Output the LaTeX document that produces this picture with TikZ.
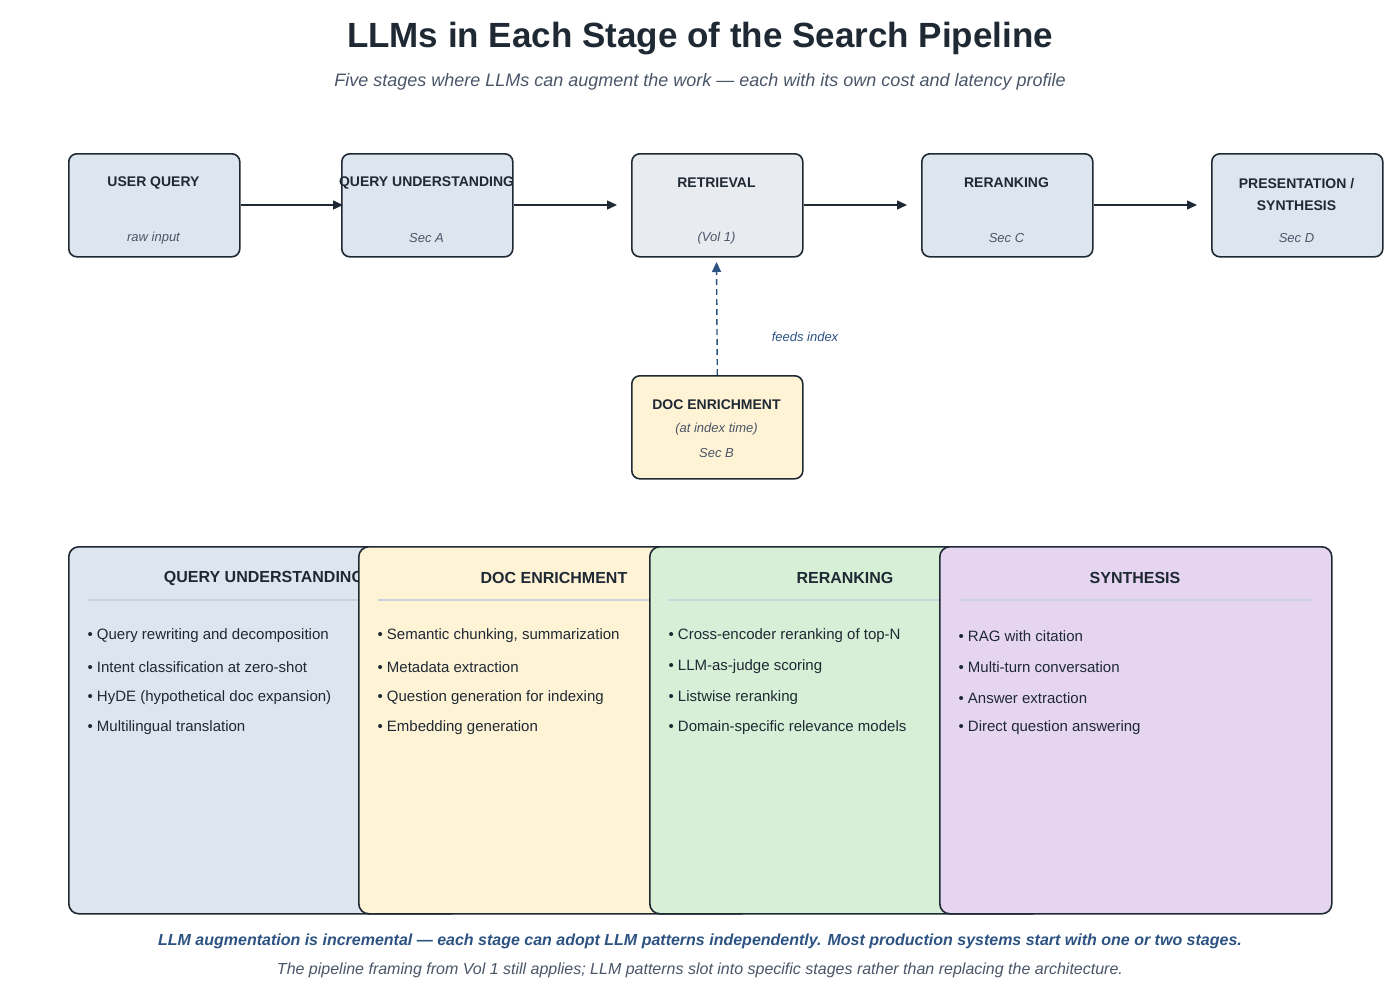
\documentclass[tikz,border=0pt]{standalone}
\usepackage{fontspec}
\setmainfont{Liberation Sans}
\usetikzlibrary{positioning,arrows.meta}
\definecolor{ink}{HTML}{1F2933}
\definecolor{navy}{HTML}{2C5282}
\definecolor{greytxt}{HTML}{4A5568}
\definecolor{stagefill}{HTML}{DDE6EF}
\definecolor{retrfill}{HTML}{E8ECF1}
\definecolor{docfill}{HTML}{FFF3D6}
\definecolor{rerankfill}{HTML}{D6EFD6}
\definecolor{synthfill}{HTML}{E5D5F0}
\definecolor{rulecol}{HTML}{C9D3DE}
\begin{document}
\begin{tikzpicture}[x=1pt,y=-1pt]
\tikzset{
  every node/.style={text=ink},
  stage/.style={draw=ink,line width=1.6pt,rounded corners=8pt,minimum width=171pt,minimum height=103pt,anchor=north west},
  stagename/.style={font=\fontsize{14}{17}\selectfont\bfseries,align=center},
  stagenote/.style={font=\fontsize{13}{15}\selectfont\itshape,text=greytxt},
  flow/.style={-{Triangle[length=10pt,width=9pt]},line width=1.4pt,draw=ink},
  panel/.style={draw=ink,line width=1.6pt,rounded corners=10pt,minimum width=392pt,minimum height=367pt,anchor=north west},
  paneltitle/.style={font=\fontsize{16}{19}\selectfont\bfseries},
  item/.style={font=\fontsize{15}{18}\selectfont,anchor=west}
}
\useasboundingbox (0,0) rectangle (1400,990);

%TITLE
\node[font=\fontsize{35}{40}\selectfont\bfseries] (title) at (700,39) {LLMs in Each Stage of the Search Pipeline};
\node[font=\fontsize{18}{21}\selectfont\itshape,text=greytxt] (subtitle) at (700,82) {Five stages where LLMs can augment the work — each with its own cost and latency profile};

%PIPELINE
\node[stage,fill=stagefill] (QUERY) at (68,153) {};
\node[stage,fill=stagefill] (UNDERSTAND) at (341,153) {};
\node[stage,fill=retrfill] (RETRIEVAL) at (631,153) {};
\node[stage,fill=stagefill] (RERANK) at (921,153) {};
\node[stage,fill=stagefill] (PRESENT) at (1211,153) {};
\node[stage,fill=docfill] (ENRICH) at (631,375) {};

\node[stagename] at (153.5,183) {USER QUERY};
\node[stagenote] at (153.5,238) {raw input};
\node[stagename] at (426.5,183) {QUERY UNDERSTANDING};
\node[stagenote] at (426.5,238) {Sec A};
\node[stagename] at (716.5,183) {RETRIEVAL};
\node[stagenote] at (716.5,238) {(Vol 1)};
\node[stagename] at (1006.5,183) {RERANKING};
\node[stagenote] at (1006.5,238) {Sec C};
\node[stagename,font=\fontsize{14}{22}\selectfont\bfseries] at (1296.5,194) {PRESENTATION /\\SYNTHESIS};
\node[stagenote] at (1296.5,238) {Sec D};
\node[stagename] at (716.5,405) {DOC ENRICHMENT};
\node[stagenote] at (716.5,429) {(at index time)};
\node[stagenote] at (716.5,453) {Sec B};

%PATHS
\coordinate (a1) at (343,205); \coordinate (a2) at (617,205);
\coordinate (a3) at (907,205); \coordinate (a4) at (1197,205);
\coordinate (feed) at (716.5,262);
\draw[flow] (QUERY.east |- a1) -- (a1);
\draw[flow] (UNDERSTAND.east |- a2) -- (a2);
\draw[flow] (RETRIEVAL.east |- a3) -- (a3);
\draw[flow] (RERANK.east |- a4) -- (a4);
\draw[flow,draw=navy,dashed,dash pattern=on 6pt off 4pt] (ENRICH.north) -- (feed);
\node[stagenote,text=navy] (feedlbl) at (805,337) {feeds index};

%PANELS
\foreach \px/\fillc/\name/\ttl/\i/\ii/\iii/\iv in {
  68/stagefill/PQ/QUERY UNDERSTANDING/Query rewriting and decomposition/Intent classification at zero-shot/HyDE (hypothetical doc expansion)/Multilingual translation,
  358/docfill/PD/DOC ENRICHMENT/{Semantic chunking, summarization}/Metadata extraction/Question generation for indexing/Embedding generation,
  649/rerankfill/PR/RERANKING/Cross-encoder reranking of top-N/LLM-as-judge scoring/Listwise reranking/Domain-specific relevance models,
  939/synthfill/PS/SYNTHESIS/RAG with citation/Multi-turn conversation/Answer extraction/Direct question answering}{
  \node[panel,fill=\fillc] (\name) at (\px,546) {};
  \node[paneltitle] at (\px+196,578) {\ttl};
  \draw[rulecol,line width=1.2pt] (\px+20,600) -- (\px+372,600);
  \node[item] at (\px+16,636) {• \i};
  \node[item] at (\px+16,667) {• \ii};
  \node[item] at (\px+16,698) {• \iii};
  \node[item] at (\px+16,728) {• \iv};
}

%FOOTER
\node[font=\fontsize{16}{19}\selectfont\bfseries\itshape,text=navy] (note) at (700,941) {LLM augmentation is incremental — each stage can adopt LLM patterns independently. Most production systems start with one or two stages.};
\node[font=\fontsize{16}{19}\selectfont\itshape,text=greytxt] (note2) at (700,970) {The pipeline framing from Vol 1 still applies; LLM patterns slot into specific stages rather than replacing the architecture.};
\end{tikzpicture}
\end{document}
